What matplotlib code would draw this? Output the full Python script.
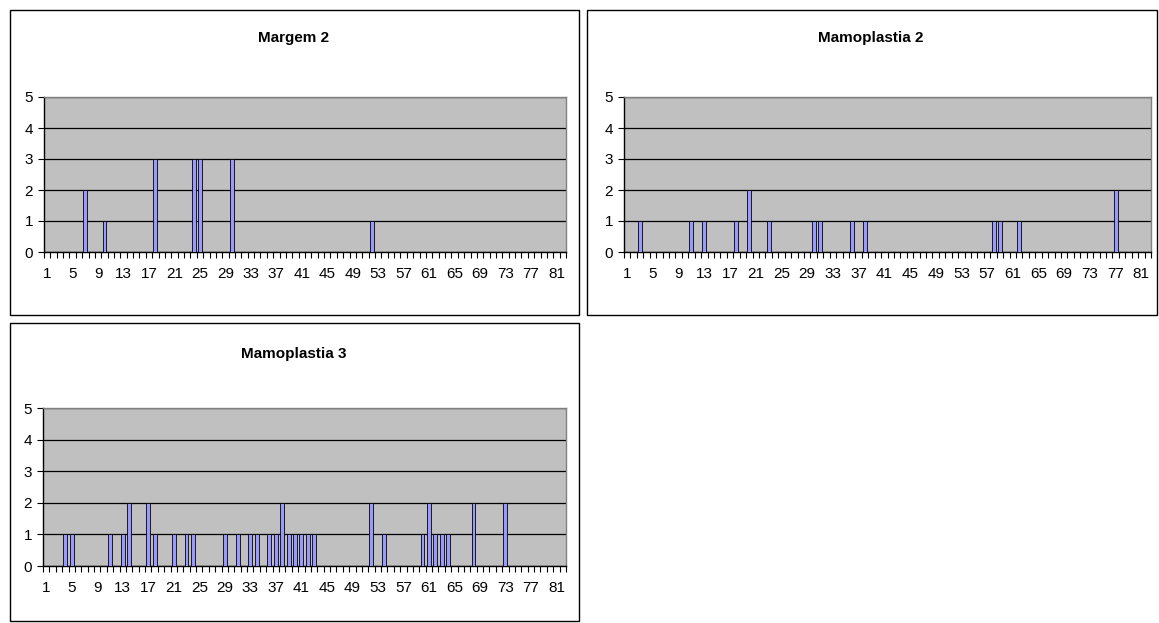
import matplotlib
matplotlib.use("Agg")
import matplotlib.pyplot as plt
from matplotlib.patches import Rectangle
import numpy as np

plt.rcParams['font.family'] = ['Liberation Sans', 'DejaVu Sans']

W, H = 1159, 623

categories = list(range(1, 83))
xtick_labels = [str(c) for c in range(1, 82, 4)]
yticks = [0, 1, 2, 3, 4, 5]

titles = ["Margem 2", "Mamoplastia 2", "Mamoplastia 3"]

margem2_pos = [7, 10, 18, 24, 25, 30, 52]
margem2_val = [2, 1, 3, 3, 3, 3, 1]

mamo2_pos = [3, 11, 13, 18, 20, 23, 30, 31, 36, 38, 58, 59, 62, 77]
mamo2_val = [1, 1, 1, 1, 2, 1, 1, 1, 1, 1, 1, 1, 1, 2]

mamo3_pos = [4, 5, 11, 13, 14, 17, 18, 21, 23, 24, 29, 31, 33, 34, 36, 37, 38,
             39, 40, 41, 42, 43, 52, 54, 60, 61, 62, 63, 64, 68, 73]
mamo3_val = [1, 1, 1, 1, 2, 2, 1, 1, 1, 1, 1, 1, 1, 1, 1, 1, 2,
             1, 1, 1, 1, 1, 2, 1, 1, 2, 1, 1, 1, 2, 2]

series = [(margem2_pos, margem2_val), (mamo2_pos, mamo2_val), (mamo3_pos, mamo3_val)]

# layout in pixels: chart box (x0, y0, x1, y1), plot area (x0, ytop, x1, ybot), title y
boxes = [(10, 10, 579, 315), (587, 10, 1157, 315), (10, 323, 579, 621)]
plots = [(44, 97, 566, 252), (624, 97, 1151, 252), (43, 408, 566, 566)]
title_x = [294, 871, 294]
title_y = [38, 38, 354]

fig = plt.figure(figsize=(W / 100, H / 100), dpi=100)
fig.patch.set_facecolor('white')

def fx(x):
    return x / W

def fy(y):
    return 1 - y / H

for i in range(3):
    bx0, by0, bx1, by1 = boxes[i]
    fig.add_artist(Rectangle((fx(bx0), fy(by1)), fx(bx1) - fx(bx0), fy(by0) - fy(by1),
                             transform=fig.transFigure, fill=False,
                             edgecolor='black', linewidth=1.0))
    px0, pyt, px1, pyb = plots[i]
    ax = fig.add_axes([fx(px0), fy(pyb), fx(px1) - fx(px0), fy(pyt) - fy(pyb)])
    ax.set_facecolor('#C0C0C0')

    vals = np.zeros(len(categories))
    pos, v = series[i]
    for p, val in zip(pos, v):
        vals[categories.index(p)] = val

    ax.set_axisbelow(True)
    ax.yaxis.grid(True, color='black', linewidth=0.9)
    ax.bar(categories, vals, width=0.62, color='#9999FF', edgecolor='black',
           linewidth=0.6, zorder=3)

    ax.set_xlim(0.5, len(categories) + 0.5)
    ax.set_ylim(0, 5)
    ax.set_yticks(yticks)
    ax.set_yticklabels([str(t) for t in yticks], fontsize=11)
    ax.set_xticks(list(range(1, 82, 4)))
    ax.set_xticklabels(xtick_labels, fontsize=11)
    ax.set_xticks(np.arange(0.5, len(categories) + 1, 1.0), minor=True)
    ax.tick_params(axis='x', which='major', length=0, pad=11)
    ax.tick_params(axis='x', which='minor', length=4, width=0.8, direction='out')
    ax.tick_params(axis='y', length=4, width=0.8, pad=4)

    for s in ['top', 'right']:
        ax.spines[s].set_color('#808080')
        ax.spines[s].set_linewidth(1.0)
    for s in ['left', 'bottom']:
        ax.spines[s].set_color('black')
        ax.spines[s].set_linewidth(1.0)

    fig.text(fx(title_x[i]), fy(title_y[i]), titles[i], ha='center', va='center',
             fontsize=11, fontweight='bold')

fig.savefig('out.png', dpi=100, facecolor='white')
